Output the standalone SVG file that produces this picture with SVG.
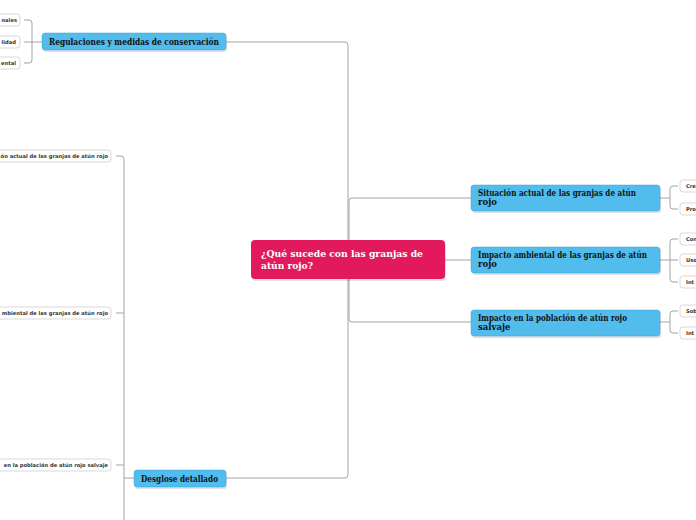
<svg xmlns="http://www.w3.org/2000/svg" width="696" height="520" viewBox="0 0 696 520">
<defs>
<style>
.bg{fill:#ffffff}
.conn{fill:none;stroke:#a3a3a3;stroke-width:1}
.blue{fill:#52bcec;stroke:#3aa8da;stroke-width:0.5}
.shadow{fill:#000;opacity:0.12}
.main{fill:#e3195e}
.btxt{font-family:"DejaVu Serif","Liberation Serif",serif;font-weight:bold;fill:#111;font-size:8.5px}
.mtxt{font-family:"DejaVu Serif","Liberation Serif",serif;font-weight:bold;fill:#ffffff;font-size:10px}
.small{fill:#ffffff;stroke:#cfcfcf;stroke-width:0.8}
.stxt{font-family:"DejaVu Sans","Open Sans",sans-serif;font-weight:bold;fill:#333;font-size:5.2px}
.tick{stroke:#b5b5b5;stroke-width:0.8}
</style>
</defs>
<rect class="bg" x="0" y="0" width="696" height="520"/>
<g id="connectors">
<!-- main trunk -->
<path class="conn" d="M226 42 H345 Q348 42 348 45 V240"/>
<path class="conn" d="M226 478 H345 Q348 478 348 475 V279"/>
<path class="conn" d="M471 198 H352 Q349 198 349 201 V319 Q349 322 352 322 H471"/>
<path class="conn" d="M445 260 H471"/>
<!-- Regulaciones children -->
<path class="conn" d="M42 42 H24"/>
<path class="conn" d="M24 20 H29 Q32 20 32 23 V60 Q32 63 29 63 H24"/>
<!-- Desglose children -->
<path class="conn" d="M134 478 H124"/>
<path class="conn" d="M116 156 H121 Q124 156 124 159 V520"/>
<path class="conn" d="M116 313 H124"/>
<path class="conn" d="M116 465 H124"/>
<!-- Situación children -->
<path class="conn" d="M660 198 H670"/>
<path class="conn" d="M678 186 H673 Q670 186 670 189 V206 Q670 209 673 209 H678"/>
<!-- Impacto ambiental children -->
<path class="conn" d="M660 260 H678"/>
<path class="conn" d="M678 239 H673 Q670 239 670 242 V279 Q670 282 673 282 H678"/>
<!-- Impacto población children -->
<path class="conn" d="M660 322 H670"/>
<path class="conn" d="M678 311 H673 Q670 311 670 314 V330 Q670 333 673 333 H678"/>
</g>
<g id="central">
<rect class="shadow" x="252" y="241" width="194" height="40" rx="4"/>
<rect class="main" x="251" y="240" width="194" height="39" rx="4"/>
<text class="mtxt" x="261" y="257" textLength="162" lengthAdjust="spacingAndGlyphs">¿Qué sucede con las granjas de</text>
<text class="mtxt" x="261" y="269" textLength="52" lengthAdjust="spacingAndGlyphs">atún rojo?</text>
</g>
<g id="regulaciones">
<rect class="shadow" x="43" y="34" width="184" height="18" rx="3"/>
<rect class="blue" x="42" y="33" width="184" height="17" rx="3"/>
<text class="btxt" x="49" y="45" textLength="170" lengthAdjust="spacingAndGlyphs">Regulaciones y medidas de conservación</text>
</g>
<g id="situacion">
<rect class="shadow" x="472" y="186" width="189" height="27" rx="3"/>
<rect class="blue" x="471" y="185" width="189" height="26" rx="3"/>
<text class="btxt" x="478" y="196" textLength="158" lengthAdjust="spacingAndGlyphs">Situación actual de las granjas de atún</text>
<text class="btxt" x="478" y="205">rojo</text>
</g>
<g id="ambiental">
<rect class="shadow" x="472" y="248" width="189" height="27" rx="3"/>
<rect class="blue" x="471" y="247" width="189" height="26" rx="3"/>
<text class="btxt" x="478" y="258" textLength="169" lengthAdjust="spacingAndGlyphs">Impacto ambiental de las granjas de atún</text>
<text class="btxt" x="478" y="267">rojo</text>
</g>
<g id="poblacion">
<rect class="shadow" x="472" y="311" width="189" height="27" rx="3"/>
<rect class="blue" x="471" y="310" width="189" height="26" rx="3"/>
<text class="btxt" x="478" y="321" textLength="149" lengthAdjust="spacingAndGlyphs">Impacto en la población de atún rojo</text>
<text class="btxt" x="478" y="330">salvaje</text>
</g>
<g id="desglose">
<rect class="shadow" x="135" y="471" width="92" height="18" rx="3"/>
<rect class="blue" x="134" y="470" width="92" height="17" rx="3"/>
<text class="btxt" x="141" y="482" textLength="77" lengthAdjust="spacingAndGlyphs">Desglose detallado</text>
</g>
<g id="reg-child-1">
<rect class="small" x="-20" y="14" width="40" height="12" rx="3"/>
<text class="stxt" x="17" y="22" text-anchor="end">nales</text>
</g>
<g id="reg-child-2">
<rect class="small" x="-20" y="36" width="40" height="12" rx="3"/>
<text class="stxt" x="16" y="44" text-anchor="end">lidad</text>
</g>
<g id="reg-child-3">
<rect class="small" x="-20" y="57" width="40" height="12" rx="3"/>
<text class="stxt" x="16" y="65" text-anchor="end">ental</text>
</g>
<g id="des-child-1">
<rect class="small" x="-20" y="150" width="131" height="12" rx="3"/>
<text class="stxt" x="108" y="158" text-anchor="end">ón actual de las granjas de atún rojo</text>
</g>
<g id="des-child-2">
<rect class="small" x="-20" y="307" width="131" height="12" rx="3"/>
<text class="stxt" x="108" y="315" text-anchor="end">mbiental de las granjas de atún rojo</text>
</g>
<g id="des-child-3">
<rect class="small" x="-20" y="459" width="131" height="12" rx="3"/>
<text class="stxt" x="108" y="467" text-anchor="end">en la población de atún rojo salvaje</text>
</g>
<g id="sit-child-1">
<rect class="small" x="680" y="180" width="30" height="12" rx="3"/>
<text class="stxt" x="686" y="188">Cre</text>
</g>
<g id="sit-child-2">
<rect class="small" x="680" y="203" width="30" height="12" rx="3"/>
<text class="stxt" x="686" y="211">Pro</text>
</g>
<g id="amb-child-1">
<rect class="small" x="680" y="233" width="30" height="12" rx="3"/>
<text class="stxt" x="686" y="241">Con</text>
</g>
<g id="amb-child-2">
<rect class="small" x="680" y="254" width="30" height="12" rx="3"/>
<text class="stxt" x="686" y="262">Uso</text>
</g>
<g id="amb-child-3">
<rect class="small" x="680" y="276" width="30" height="12" rx="3"/>
<text class="stxt" x="686" y="284">Int</text>
</g>
<g id="pob-child-1">
<rect class="small" x="680" y="305" width="30" height="12" rx="3"/>
<text class="stxt" x="686" y="313">Sob</text>
</g>
<g id="pob-child-2">
<rect class="small" x="680" y="327" width="30" height="12" rx="3"/>
<text class="stxt" x="686" y="335">Int</text>
</g>
</svg>
